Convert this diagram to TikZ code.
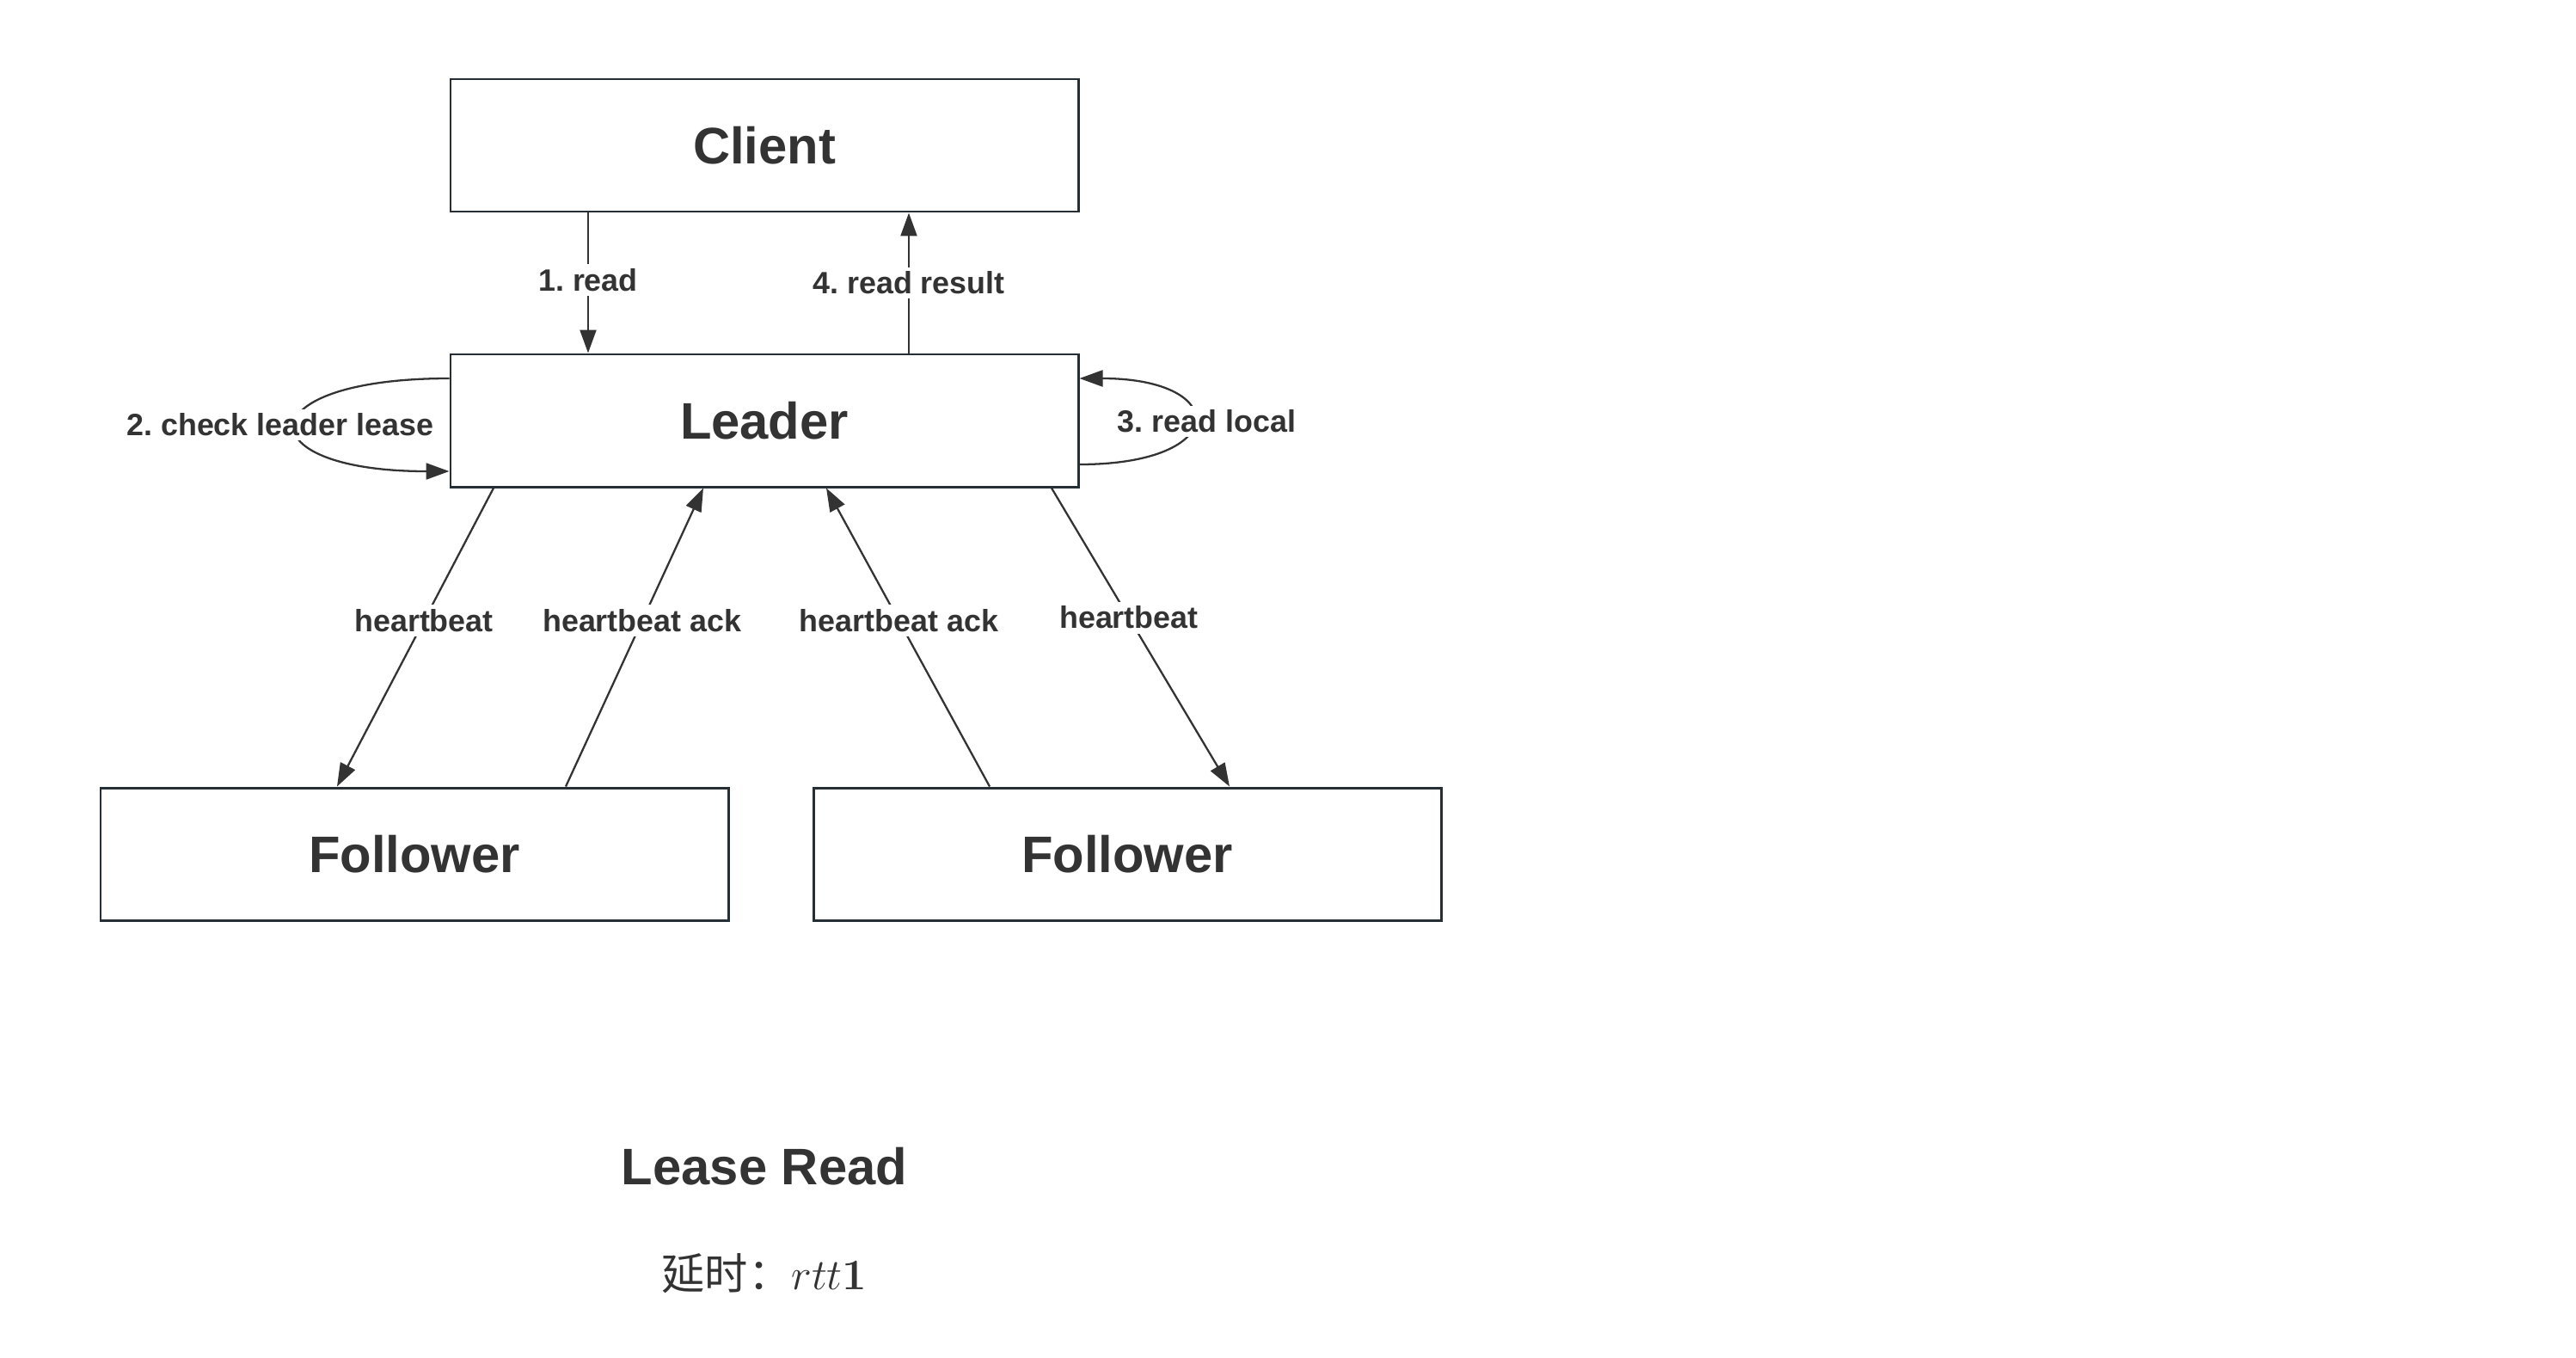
\documentclass[tikz,border=0pt]{standalone}
\usepackage[no-math]{fontspec}
\setmainfont{Liberation Sans}
\newfontfamily\cjk{Noto Sans CJK SC}
\usepackage{xcolor}
\usepackage{tikz}
\usetikzlibrary{arrows.meta, positioning, calc}
\definecolor{edge}{RGB}{38, 47, 53}
\definecolor{ink}{RGB}{51, 51, 51}
\tikzstyle{box} = [rectangle, minimum width=7.30cm, minimum height=1.54cm, text centered, draw=edge, line width=0.85pt, fill=white, text=ink, font=\fontsize{17}{20}\selectfont\bfseries]
\tikzstyle{arrow} = [line width=0.65pt, draw=ink, -{Triangle[length=2.7mm, width=1.9mm]}]
\tikzstyle{lab} = [fill=white, text=ink, inner sep=1.5pt, font=\fontsize{10.2}{12}\selectfont\bfseries]
\frenchspacing

\begin{document}
\begin{tikzpicture}
    \useasboundingbox (0, 0) rectangle (29.96, -15.79);

    \node[box] (client) at (8.89, -1.69) {Client};
    \node[box] (leader) at (8.89, -4.89) {Leader};
    \node[box] (f1) at (4.82, -9.93) {Follower};
    \node[box] (f2) at (13.11, -9.93) {Follower};

    % Client <-> Leader
    \draw[arrow] ([xshift=-2.05cm]client.south) -- node[lab, pos=0.48] {1. read} ([xshift=-2.05cm]leader.north);
    \draw[arrow] ([xshift=1.68cm]leader.north) -- node[lab, pos=0.5] {4. read result} ([xshift=1.68cm]client.south);

    % Loops on the leader
    \draw[arrow] ([yshift=0.49cm]leader.west) .. controls +(-2.37, 0) and +(-2.37, 0) .. node[lab, xshift=-0.19cm] {2. check leader lease} ([yshift=-0.59cm]leader.west);
    \draw[arrow] ([yshift=-0.51cm]leader.east) .. controls +(1.76, 0) and +(1.76, 0) .. node[lab, xshift=0.16cm] {3. read local} ([yshift=0.49cm]leader.east);

    % Heartbeats
    \draw[arrow] ([xshift=-3.15cm]leader.south) -- node[lab, pos=0.445] {heartbeat} ([xshift=-0.90cm]f1.north);
    \draw[arrow] ([xshift=1.76cm]f1.north) -- node[lab, pos=0.555] {heartbeat ack} ([xshift=-0.71cm]leader.south);
    \draw[arrow] ([xshift=-1.60cm]f2.north) -- node[lab, pos=0.555] {heartbeat ack} ([xshift=0.72cm]leader.south);
    \draw[arrow] ([xshift=3.34cm]leader.south) -- node[lab, pos=0.434] {heartbeat} ([xshift=1.19cm]f2.north);

    % Caption
    \node[text=ink, font=\fontsize{17}{20}\selectfont\bfseries] (title) at (8.89, -13.56) {Lease Read};
    \node[text=ink, font=\fontsize{14.3}{17}\selectfont] (delay) at (8.89, -14.81) {{\cjk 延时：}$rtt\mathbf{1}$};
\end{tikzpicture}
\end{document}
